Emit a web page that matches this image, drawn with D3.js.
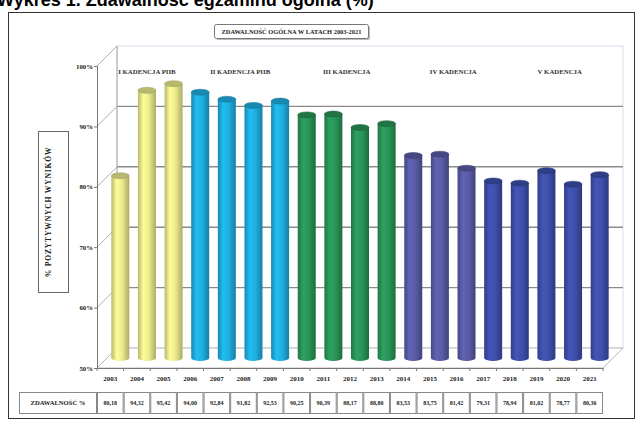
<!DOCTYPE html>
<html><head><meta charset="utf-8">
<script src="https://cdn.jsdelivr.net/npm/d3@7/dist/d3.min.js"></script>
<style>body{margin:0;background:#fff}svg{display:block}text{font-family:"Liberation Serif","DejaVu Serif",serif;font-weight:bold}</style>
</head><body><svg id="c" width="642" height="425"></svg>
<script>
const years = ["2003","2004","2005","2006","2007","2008","2009","2010","2011","2012","2013","2014","2015","2016","2017","2018","2019","2020","2021"];
const values = [80.18,94.32,95.42,94.00,92.84,91.82,92.53,90.25,90.39,88.17,88.80,83.53,83.75,81.42,79.31,78.94,81.02,78.77,80.36];
const groups = ["I","I","I","II","II","II","II","III","III","III","III","IV","IV","IV","IV","V","V","V","V"];
const cadences = [["I","I KADENCJA PIIB"],["II","II KADENCJA PIIB"],["III","III KADENCJA"],["IV","IV KADENCJA"],["V","V KADENCJA"]];
const yTicks = [50,60,70,80,90,100];
const title = "ZDAWALNOŚĆ OGÓLNA W LATACH 2003-2021";
const rowLabel = "ZDAWALNOŚĆ %";
const yLabel = "% POZYTYWNYCH WYNIKÓW";
const header = "Wykres 1. Zdawalność egzaminu ogólna (%)";
const colors = ["#ecec8e","#ecec8e","#ecec8e","#1fb0e2","#1fb0e2","#1fb0e2","#1fb0e2","#2a9658","#2a9658","#2a9658","#2a9658","#5a5ca8","#5a5ca8","#5a5ca8","#3e50ac","#3e50ac","#3e50ac","#3e50ac","#3e50ac"];

const svg = d3.select("#c");
const DX = 20, DY = -20;
const x = d3.scaleBand().domain(years).range([97, 603]).padding(0);
const y = d3.scaleLinear().domain([50, 100]).range([368, 66]);

// header text (partly above the page edge, as in the reference)
svg.append("text").attr("x", -3).attr("y", 6).attr("font-size", 18)
  .style("font-family", "Liberation Sans, Arial, sans-serif")
  .text(header);

// outer frame
svg.append("rect").attr("x", 8.5).attr("y", 12.5).attr("width", 626).attr("height", 406)
  .attr("fill", "#fff").attr("stroke", "#333").attr("stroke-width", 1);

// back wall
const bx0 = 97 + DX, bx1 = 603 + DX;
svg.append("rect").attr("x", bx0).attr("y", y(100) + DY).attr("width", bx1 - bx0).attr("height", y(50) - y(100))
  .attr("fill", "#fff").attr("stroke", "#dcdcec").attr("stroke-width", 1);
yTicks.forEach(t => {
  if (t === 100 || t === 50) return;
  svg.append("line").attr("x1", bx0).attr("x2", bx1).attr("y1", y(t) + DY).attr("y2", y(t) + DY)
    .attr("stroke", "#8a8a8a").attr("stroke-width", 1.4);
});
yTicks.forEach(t => {
  svg.append("line").attr("x1", 97).attr("y1", y(t)).attr("x2", bx0).attr("y2", y(t) + DY)
    .attr("stroke", "#999").attr("stroke-width", 0.8);
});
svg.append("line").attr("x1", bx0).attr("x2", bx0).attr("y1", y(100) + DY).attr("y2", y(50) + DY).attr("stroke", "#aaa");
// floor
svg.append("path").attr("d", `M97,${y(50)}L${bx0},${y(50)+DY}L${bx1},${y(50)+DY}L603,${y(50)}Z`)
  .attr("fill", "#fff").attr("stroke", "#aaa").attr("stroke-width", 0.8);

// y axis
const yAxis = d3.axisLeft(y).tickValues(yTicks).tickSize(3).tickFormat(d => d + "%");
const gy = svg.append("g").attr("transform", "translate(97,0)").call(yAxis);
gy.select(".domain").attr("stroke", "#777");
gy.selectAll("line").attr("stroke", "#777");
gy.selectAll("text").attr("font-size", 6.8).attr("fill", "#222").attr("x", -4);

// x axis
const xAxis = d3.axisBottom(x).tickSize(0).tickPadding(8);
const gx = svg.append("g").attr("transform", `translate(0,${y(50)})`).call(xAxis);
gx.select(".domain").attr("stroke", "#777");
gx.selectAll("text").attr("font-size", 7).attr("fill", "#222");
svg.selectAll(".xt").data(years.concat(["end"])).join("line")
  .attr("x1", (d, i) => 97 + i * x.bandwidth()).attr("x2", (d, i) => 97 + i * x.bandwidth())
  .attr("y1", y(50)).attr("y2", y(50) + 3).attr("stroke", "#777");

// gradients
const defs = svg.append("defs");
colors.forEach((c, i) => {
  const base = d3.color(c);
  const g = defs.append("linearGradient").attr("id", "g" + i).attr("x1", 0).attr("x2", 1).attr("y1", 0).attr("y2", 0);
  g.append("stop").attr("offset", 0).attr("stop-color", base.darker(0.7));
  g.append("stop").attr("offset", 0.3).attr("stop-color", base.brighter(0.2));
  g.append("stop").attr("offset", 0.6).attr("stop-color", base);
  g.append("stop").attr("offset", 1).attr("stop-color", base.darker(0.9));
});

// bars (cylinders)
const bw = 18, ry = 3;
const bars = svg.append("g").selectAll("g").data(values).join("g");
bars.each(function (v, i) {
  const g = d3.select(this);
  const cx = x(years[i]) + x.bandwidth() / 2 + DX / 2;
  const top = y(v) + DY / 2, bot = y(50) + DY / 2;
  g.append("path")
    .attr("d", `M${cx - bw/2},${top}L${cx - bw/2},${bot}A${bw/2},${ry} 0 0 0 ${cx + bw/2},${bot}L${cx + bw/2},${top}Z`)
    .attr("fill", `url(#g${i})`);
  g.append("ellipse").attr("cx", cx).attr("cy", top).attr("rx", bw / 2).attr("ry", ry)
    .attr("fill", d3.color(colors[i]).darker(0.7)).attr("stroke", d3.color(colors[i]).darker(1.1)).attr("stroke-width", 0.5);
});

// cadence labels
cadences.forEach(([k, lab]) => {
  const idx = groups.map((g, i) => g === k ? i : -1).filter(i => i >= 0);
  const cx = (x(years[idx[0]]) + x(years[idx[idx.length - 1]]) + x.bandwidth()) / 2 + DX / 2;
  svg.append("text").attr("x", cx).attr("y", 74).attr("text-anchor", "middle").attr("font-size", 6.8).attr("fill", "#333").text(lab);
});

// title box
svg.append("rect").attr("x", 216).attr("y", 26).attr("width", 154).attr("height", 14).attr("rx", 2).attr("fill", "#bbb");
svg.append("rect").attr("x", 214.5).attr("y", 24.5).attr("width", 154).attr("height", 14).attr("rx", 2)
  .attr("fill", "#fff").attr("stroke", "#777");
svg.append("text").attr("x", 291.5).attr("y", 34).attr("text-anchor", "middle").attr("font-size", 6.4).attr("fill", "#222").text(title);

// y label box
svg.append("rect").attr("x", 38.5).attr("y", 131.5).attr("width", 30).attr("height", 161).attr("fill", "#fff").attr("stroke", "#666");
svg.append("text").attr("transform", `translate(51,212) rotate(-90)`).attr("text-anchor", "middle")
  .attr("font-size", 7.6).attr("letter-spacing", 0.8).attr("fill", "#222").text(yLabel);

// table
const ty = 392, th = 21;
svg.append("rect").attr("x", 19.5).attr("y", ty + 0.5).attr("width", 77).attr("height", th).attr("fill", "#fff").attr("stroke", "#888");
svg.append("text").attr("x", 58).attr("y", ty + 13).attr("text-anchor", "middle").attr("font-size", 6.6).attr("fill", "#222").text(rowLabel);
svg.selectAll(".cell").data(values).join("rect")
  .attr("x", (d, i) => x(years[i]) + 0.5).attr("y", ty + 0.5).attr("width", x.bandwidth() - 1).attr("height", th)
  .attr("fill", "#fff").attr("stroke", "#888");
svg.selectAll(".cellt").data(values).join("text")
  .attr("x", (d, i) => x(years[i]) + x.bandwidth() / 2).attr("y", ty + 13).attr("text-anchor", "middle")
  .attr("font-size", 6).attr("fill", "#222").text(d => d.toFixed(2).replace(".", ","));
</script></body></html>
